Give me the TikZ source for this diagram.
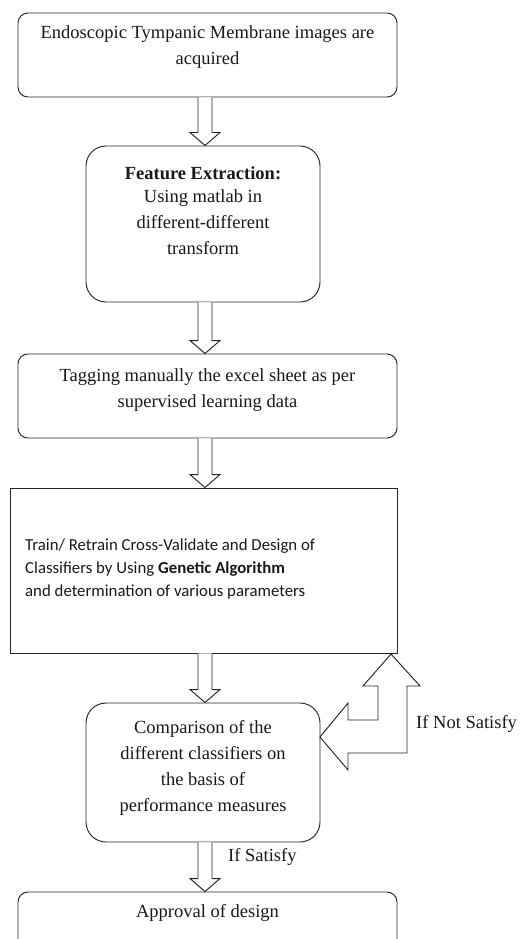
\documentclass[tikz,border=0pt]{standalone}
\usepackage{fontspec}
\setmainfont{Liberation Serif}
\newfontfamily\calfont{Carlito}
\usetikzlibrary{calc}
\newcommand\blockdown[2]{%
  \draw[lw, fill=white, line join=miter] let \p1=(#1.south), \p2=(#2.north) in
    (198pt,\y1) -- (198pt,\y2+13pt) -- (190pt,\y2+13pt) -- (205pt,\y2)
    -- (220pt,\y2+13pt) -- (212pt,\y2+13pt) -- (212pt,\y1);}
\begin{document}
\begin{tikzpicture}[x=1pt,y=-1pt,
  lw/.style={line width=0.95pt, draw=black!85},
  rbox/.style={lw, rounded corners=10pt, inner sep=0pt},
  rboxb/.style={lw, rounded corners=20pt, inner sep=0pt},
  sbox/.style={lw, inner sep=0pt},
  txt/.style={font=\fontsize{18.5}{26}\selectfont, align=center, inner sep=0pt, text=black!90},
  ctxt/.style={font=\calfont\fontsize{16.8}{23}\selectfont, align=left, inner sep=0pt, text=black!90}]
\clip (0,0) rectangle (520,939);
\fill[white] (0,0) rectangle (520,939);
% boxes
\node[rbox, minimum width=379pt, minimum height=84pt] (b1) at (207.5,55) {};
\node[rboxb, minimum width=234pt, minimum height=156pt] (b2) at (203,224) {};
\node[rbox, minimum width=379pt, minimum height=84pt] (b3) at (207.5,396) {};
\node[sbox, minimum width=387pt, minimum height=165pt] (b4) at (203.5,570.5) {};
\node[rboxb, minimum width=234pt, minimum height=139pt] (b5) at (203,772.5) {};
\node[rbox, minimum width=379pt, minimum height=70pt] (b6) at (207.5,927) {};
% texts
\node[txt] (t1) at (207.5,47) {Endoscopic Tympanic Membrane images are\\acquired};
\node[txt] (t2h) at (203,173) {\textbf{Feature Extraction:}};
\node[txt] (t2) at (203,222) {Using matlab in\\different-different\\transform};
\node[txt] (t3) at (207.5,390) {Tagging manually the excel sheet as per\\supervised learning data};
\node[ctxt, anchor=west] (t4) at (25,569) {Train/ Retrain Cross-Validate and Design of\\Classifiers by Using \textbf{Genetic Algorithm}\\and determination of various parameters};
\node[txt] (t5) at (203,768) {Comparison of the\\different classifiers on\\the basis of\\performance measures};
\node[txt] (t6) at (207.5,913) {Approval of design};
\node[txt, anchor=west] (l1) at (416,724) {If Not Satisfy};
\node[txt, anchor=west] (l2) at (228,857) {If Satisfy};
% block arrows
\blockdown{b1}{b2}
\blockdown{b2}{b3}
\blockdown{b3}{b4}
\blockdown{b4}{b5}
\blockdown{b5}{b6}
% feedback arrow
\draw[lw, fill=white, line join=miter]
  (320,737) -- (348,703) -- (348,720) -- (378,720) -- (378,686) -- (363,686)
  -- (391,654) -- (420,686) -- (407,686) -- (407,753) -- (348,753) -- (348,770) -- cycle;
\end{tikzpicture}
\end{document}
